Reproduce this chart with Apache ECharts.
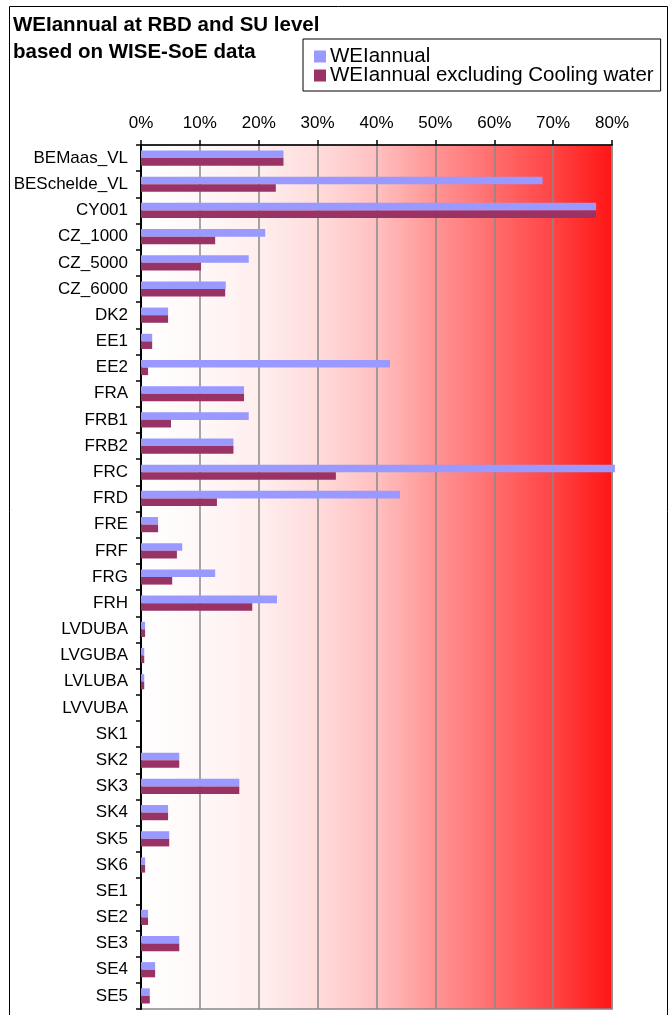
<!DOCTYPE html>
<html><head><meta charset="utf-8">
<script src="https://cdn.jsdelivr.net/npm/echarts@6/dist/echarts.min.js"></script>
<style>html,body{margin:0;padding:0;background:#fff}#c{width:672px;height:1015px}</style>
</head><body><div id="c"></div>
<script>
const categories = ['BEMaas_VL','BESchelde_VL','CY001','CZ_1000','CZ_5000','CZ_6000','DK2','EE1','EE2','FRA','FRB1','FRB2','FRC','FRD','FRE','FRF','FRG','FRH','LVDUBA','LVGUBA','LVLUBA','LVVUBA','SK1','SK2','SK3','SK4','SK5','SK6','SE1','SE2','SE3','SE4','SE5'];
const weiAnnual = [24.2,68.2,77.3,21.1,18.3,14.4,4.6,1.9,42.3,17.5,18.3,15.7,80.5,44.0,2.9,7.0,12.6,23.1,0.7,0.55,0.55,0,0,6.5,16.7,4.6,4.8,0.7,0,1.2,6.5,2.4,1.5];
const weiExclCooling = [24.2,22.9,77.3,12.6,10.2,14.3,4.6,1.9,1.2,17.5,5.1,15.7,33.1,12.9,2.9,6.1,5.3,18.9,0.7,0.55,0.55,0,0,6.5,16.7,4.6,4.8,0.7,0,1.2,6.5,2.4,1.5];
const seriesNames = ['WEIannual','WEIannual excluding Cooling water'];
const titleLines = ['WEIannual at RBD and SU level','based on WISE-SoE data'];

const chart = echarts.init(document.getElementById('c'), null, {renderer:'canvas'});
const font = '"Liberation Sans", Arial, sans-serif';
chart.setOption({
  animation:false,
  backgroundColor:'#fff',
  textStyle:{fontFamily:font},
  title:{text:titleLines.join('\n'), left:8, top:7,
    textStyle:{fontFamily:font,fontSize:20.5,fontWeight:'bold',color:'#000',lineHeight:27}},
  legend:{orient:'vertical', left:303, top:39, padding:[7,7,5,11], itemGap:-2,
    borderColor:'#000', borderWidth:1, icon:'rect', itemWidth:12, itemHeight:12,
    textStyle:{fontFamily:font,fontSize:20.5,color:'#000',padding:[0,0,0,-1]}, data:seriesNames},
  graphic:[{type:'rect', shape:{x:9.5,y:6.5,width:658,height:1100}, style:{fill:null,stroke:'#000',lineWidth:1}, silent:true, z:-1}],
  grid:{left:141,right:60,top:145,bottom:6,show:true,borderColor:'#888',borderWidth:1.5,
    backgroundColor:{type:'linear',x:0,y:0,x2:1,y2:0,colorStops:[
      {offset:0,color:'#ffffff'},{offset:0.125,color:'#fff8f8'},{offset:0.25,color:'#ffeeee'},
      {offset:0.375,color:'#ffdcdc'},{offset:0.5,color:'#ffc0c0'},{offset:0.625,color:'#ff9494'},
      {offset:0.75,color:'#ff6c6c'},{offset:0.875,color:'#ff4444'},{offset:1,color:'#ff1515'}]}},
  xAxis:{type:'value', position:'top', min:0, max:80, interval:10,
    axisLine:{show:true,lineStyle:{color:'#000',width:1.5}},
    axisTick:{show:true,length:5,lineStyle:{color:'#000',width:1.5}},
    axisLabel:{formatter:'{value}%',fontSize:17,color:'#000',margin:13,fontFamily:font},
    splitLine:{show:true,lineStyle:{color:'#888',width:1.5}}},
  yAxis:{type:'category', inverse:true, data:categories,
    axisLine:{show:true,lineStyle:{color:'#000',width:2}},
    axisTick:{show:true,length:5,lineStyle:{color:'#000',width:1.5}},
    axisLabel:{fontSize:17,color:'#000',margin:13,fontFamily:font,interval:0}},
  series:[
    {name:seriesNames[0],type:'bar',data:weiAnnual,itemStyle:{color:'#9999ff'},barGap:'0%',barCategoryGap:'42%',clip:false},
    {name:seriesNames[1],type:'bar',data:weiExclCooling,itemStyle:{color:'#993366'},barGap:'0%',barCategoryGap:'42%',clip:false}
  ]
});
</script></body></html>
